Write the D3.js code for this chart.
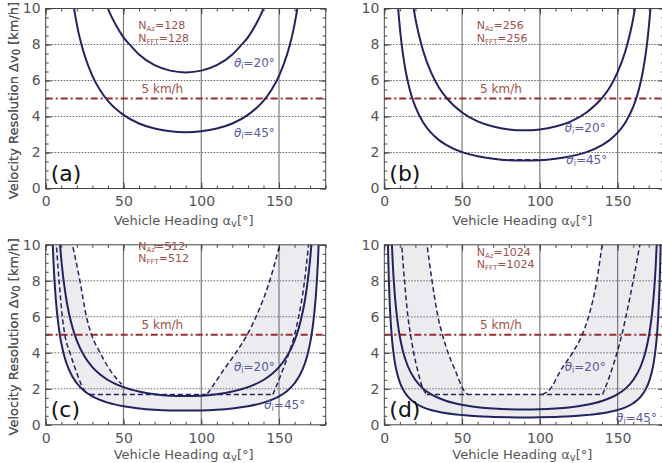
<!DOCTYPE html>
<html lang="en">
<head>
<meta charset="UTF-8">
<title>Velocity resolution vs vehicle heading</title>
<script src="https://d3js.org/d3.v7.min.js"></script>
<style>
  body { margin: 0; background: #fff; }
  svg { display: block; font-family: "DejaVu Sans", sans-serif; }
</style>
</head>
<body>
<svg width="662" height="463"></svg>
<script>
// ticks
const xTicks = [0, 50, 100, 150];
const yTicks = [0, 2, 4, 6, 8, 10];
const xMinor = [0, 10, 20, 30, 40, 50, 60, 70, 80, 90, 100, 110, 120, 130, 140, 150, 160, 170, 180];
const yMinor = [0, 0.5, 1, 1.5, 2, 2.5, 3, 3.5, 4, 4.5, 5, 5.5, 6, 6.5, 7, 7.5, 8, 8.5, 9, 9.5, 10];
const xGrid = [50, 100, 150];
const yGrid = [2, 4, 6, 8];
const limitKmh = 5;
const nSizes = ["128", "256", "512", "1024"];
const tags = ["(a)", "(b)", "(c)", "(d)"];

// solid curves, [heading deg, resolution km/h]
const a20 = [[39.5,10.1],[42,9.6],[45,9.1],[50,8.4],[55,7.9],[60,7.45],[70,6.85],[80,6.55],[90,6.45],
  [100,6.55],[110,6.85],[120,7.45],[125,7.9],[130,8.4],[135,9.1],[138,9.6],[140.5,10.1]];
const a45 = [[17.5,10.4],[19,9.6],[21,8.7],[23,8.0],[25,7.4],[30,6.26],[35,5.46],[40,4.87],[50,4.09],[60,3.61],
  [70,3.33],[80,3.18],[90,3.13],[100,3.18],[110,3.33],[120,3.61],[130,4.09],[140,4.87],[145,5.46],[150,6.26],
  [155,7.4],[157,8.0],[159,8.7],[161,9.6],[162.5,10.4]];
const b20 = [[18.5,10.2],[20,9.44],[22,8.62],[25,7.64],[30,6.46],[35,5.63],[40,5.03],[50,4.22],[60,3.73],[70,3.44],
  [80,3.28],[90,3.23],[100,3.28],[110,3.44],[120,3.73],[130,4.22],[140,5.03],[145,5.63],[150,6.46],[155,7.64],
  [158,8.62],[160,9.44],[161.5,10.2]];
const b45 = [[8.8,10.1],[9.5,9.4],[10.5,8.5],[12,7.46],[13.5,6.64],[15,5.99],[17.5,5.15],[20,4.53],[25,3.67],[30,3.1],
  [35,2.7],[40,2.41],[50,2.02],[60,1.79],[70,1.65],[80,1.57],[90,1.55],[100,1.57],[110,1.65],[120,1.79],[130,2.02],
  [140,2.41],[145,2.7],[150,3.1],[155,3.67],[160,4.53],[162.5,5.15],[165,5.99],[166.5,6.64],[168,7.46],[169.5,8.5],
  [170.5,9.4],[171.2,10.1]];
const c20 = [[9,10.2],[10,9.21],[11,8.39],[12,7.7],[13.5,6.85],[15,6.18],[17.5,5.32],[20,4.68],[25,3.79],[30,3.2],
  [35,2.79],[40,2.49],[50,2.09],[60,1.85],[70,1.7],[80,1.62],[90,1.6],[100,1.62],[110,1.7],[120,1.85],[130,2.09],
  [140,2.49],[145,2.79],[150,3.2],[155,3.79],[160,4.68],[162.5,5.32],[165,6.18],[166.5,6.85],[168,7.7],[169,8.39],
  [170,9.21],[171,10.2]];
const c45 = [[4.4,10.3],[5,9.06],[5.5,8.24],[6,7.56],[7,6.48],[8,5.68],[9,5.05],[10,4.55],[12,3.8],[15,3.05],[20,2.31],
  [25,1.87],[30,1.58],[40,1.23],[50,1.03],[60,0.91],[70,0.84],[80,0.8],[90,0.79],[100,0.8],[110,0.84],[120,0.91],
  [130,1.03],[140,1.23],[150,1.58],[155,1.87],[160,2.31],[165,3.05],[168,3.8],[170,4.55],[171,5.05],[172,5.68],
  [173,6.48],[174,7.56],[174.5,8.24],[175,9.06],[175.6,10.3]];
const d20 = [[4.8,10.2],[5.5,8.87],[6,8.13],[7,6.97],[8,6.11],[9,5.43],[10,4.89],[12,4.09],[15,3.28],[20,2.49],[25,2.01],
  [30,1.7],[40,1.32],[50,1.11],[60,0.98],[70,0.9],[80,0.86],[90,0.85],[100,0.86],[110,0.9],[120,0.98],[130,1.11],
  [140,1.32],[150,1.7],[155,2.01],[160,2.49],[165,3.28],[168,4.09],[170,4.89],[171,5.43],[172,6.11],[173,6.97],
  [174,8.13],[174.5,8.87],[175.2,10.2]];
const d45 = [[2.3,10.2],[2.6,9.03],[3,7.84],[3.5,6.72],[4,5.88],[5,4.7],[6,3.92],[7,3.36],[8,2.95],[10,2.36],[12,1.97],
  [15,1.58],[20,1.2],[25,0.97],[30,0.82],[40,0.64],[50,0.54],[60,0.47],[70,0.44],[80,0.42],[90,0.41],[100,0.42],
  [110,0.44],[120,0.47],[130,0.54],[140,0.64],[150,0.82],[155,0.97],[160,1.2],[165,1.58],[168,1.97],[170,2.36],
  [172,2.95],[173,3.36],[174,3.92],[175,4.7],[176,5.88],[176.5,6.72],[177,7.84],[177.4,9.03],[177.7,10.2]];

// dashed curves
const bFloor = [[75,1.6],[105,1.6]];
const cDash1 = [[6.6,10.3],[8.6,8],[10.7,6],[12.3,5],[15.6,4],[19.5,3],[24.2,2],[28.4,1.68]];
const cDash2 = [[16.5,10.3],[22,8],[26.2,6],[29.5,5],[35,4],[41.7,3],[48.8,2.25]];
const cFloor = [[28.4,1.68],[146,1.68]];
const cDash3 = [[104,1.73],[106.2,2],[114,3],[122.2,4],[129.5,5],[135.2,6],[144,8],[151,10.2]];
const cDash4 = [[146,1.68],[147.6,2],[152.2,3],[156.4,4],[160,5],[162.6,6],[166.4,8],[169.2,10.2]];
const dDash1 = [[10.9,10.3],[13,8],[15.2,6],[16.9,5],[18.9,4],[21.5,3],[24.9,2],[27.4,1.68]];
const dDash2 = [[27,10.3],[30.7,8],[34.5,6],[37.4,5],[41,4],[45.7,3],[50.6,2],[53.6,1.68]];
const dFloor = [[27.4,1.68],[140.3,1.68]];
const dDash3 = [[101.6,1.68],[106.8,2],[113.2,3],[121,4],[127.2,5],[131.3,6],[136.6,8],[140.3,10.2]];
const dDash4 = [[140.3,1.68],[141.8,2],[146,3],[149.6,4],[152.7,5],[155.3,6],[160,8],[164.7,10.2]];

// inner edge of the grey band
const cInner = cDash2.concat(c20.filter(p => p[0] > 50 && p[0] < 104), cDash3);
const dInner = dDash2.concat(dDash3);

const panels = [
  {ox: 45.7, oy: 8.5, s20: a20, s45: a45, dashed: [], inner: null,
   nY: [11, 24], t20: [121, 7.0], t45: [121, 3.1], titleY: 36},
  {ox: 384.3, oy: 8.5, s20: b20, s45: b45, dashed: [bFloor], inner: null,
   nY: [11.5, 24], t20: [116, 3.35], t45: [117, 1.6], titleY: 36},
  {ox: 45.7, oy: 244.8, s20: c20, s45: c45, dashed: [cDash1, cDash2, cFloor, cDash3, cDash4], inner: cInner,
   nY: [-3.5, 8.5], t20: [121, 3.2], t45: [140.5, 1.1], titleY: 34},
  {ox: 384.3, oy: 244.8, s20: d20, s45: d45, dashed: [dDash1, dDash2, dFloor, dDash3, dDash4], inner: dInner,
   nY: [2, 14], t20: [116, 3.2], t45: [149, 0.35], titleY: 34}
];

const W = 280, H = 180;
const navy = "#23235e", red = "#9b2d2d", label = "#a0504c", blueLbl = "#5a5a9c", grey = "#555";
const svg = d3.select("svg");

// text with a subscript part
function subText(sel, parts, size) {
  sel.append("tspan").text(parts[0]);
  sel.append("tspan").attr("font-size", size).attr("dy", 2).text(parts[1]);
  sel.append("tspan").attr("dy", -2).text(parts[2]);
}

panels.forEach((p, i) => {
  const x = d3.scaleLinear().domain([0, 180]).range([0, W]);
  const y = d3.scaleLinear().domain([0, 10]).range([H, 0]);
  const line = d3.line().x(d => x(d[0])).y(d => y(d[1])).curve(d3.curveMonotoneX);

  const g = svg.append("g").attr("transform", `translate(${p.ox},${p.oy})`);
  g.append("clipPath").attr("id", "clip" + i)
    .append("rect").attr("width", W).attr("height", H);
  const plot = g.append("g").attr("clip-path", `url(#clip${i})`);

  // grey band between theta=45 curve and inner edge
  if (p.inner) {
    plot.append("path")
      .attr("d", line(p.s45) + "Z" + line(p.inner) + "Z")
      .attr("fill", "#ebebf0")
      .attr("fill-rule", "evenodd");
  }

  // grid
  plot.selectAll(".hg").data(yGrid).enter().append("line")
    .attr("x1", 0).attr("x2", W).attr("y1", d => y(d)).attr("y2", d => y(d))
    .attr("stroke", "#666").attr("stroke-width", 1).attr("stroke-dasharray", "1.5,1.5");
  plot.selectAll(".vg").data(xGrid).enter().append("line")
    .attr("x1", d => x(d)).attr("x2", d => x(d)).attr("y1", 0).attr("y2", H)
    .attr("stroke", "#7a7a7a").attr("stroke-width", 1.2);

  // 5 km/h limit
  plot.append("line")
    .attr("x1", 0).attr("x2", W).attr("y1", y(limitKmh)).attr("y2", y(limitKmh))
    .attr("stroke", red).attr("stroke-width", 2).attr("stroke-dasharray", "7,3,2,3");

  // dashed curves
  p.dashed.forEach(c => {
    plot.append("path").attr("d", line(c))
      .attr("fill", "none").attr("stroke", navy).attr("stroke-width", 1.5)
      .attr("stroke-dasharray", "5,3");
  });

  // solid curves
  [p.s20, p.s45].forEach(c => {
    plot.append("path").attr("d", line(c))
      .attr("fill", "none").attr("stroke", navy).attr("stroke-width", 2);
  });

  // frame
  g.append("rect").attr("width", W).attr("height", H)
    .attr("fill", "none").attr("stroke", "#444").attr("stroke-width", 1);

  // ticks
  const styleAxis = a => {
    a.select(".domain").remove();
    a.selectAll(".tick line").attr("stroke", "#444");
    a.attr("font-family", "DejaVu Sans, sans-serif").attr("font-size", 14);
    a.selectAll("text").attr("fill", grey);
  };
  g.append("g").attr("transform", `translate(0,${H})`)
    .call(d3.axisBottom(x).tickValues(xTicks).tickSizeInner(-6).tickSizeOuter(0).tickPadding(8))
    .call(styleAxis);
  g.append("g").attr("transform", `translate(0,${H})`)
    .call(d3.axisBottom(x).tickValues(xMinor).tickSize(-3).tickFormat(""))
    .call(styleAxis);
  g.append("g")
    .call(d3.axisTop(x).tickValues(xTicks).tickSize(-6).tickFormat(""))
    .call(styleAxis);
  g.append("g")
    .call(d3.axisTop(x).tickValues(xMinor).tickSize(-3).tickFormat(""))
    .call(styleAxis);
  g.append("g")
    .call(d3.axisLeft(y).tickValues(yTicks).tickSizeInner(-6).tickSizeOuter(0).tickPadding(5))
    .call(styleAxis);
  g.append("g")
    .call(d3.axisLeft(y).tickValues(yMinor).tickSize(-3).tickFormat(""))
    .call(styleAxis);
  g.append("g").attr("transform", `translate(${W},0)`)
    .call(d3.axisRight(y).tickValues(yTicks).tickSize(-6).tickFormat(""))
    .call(styleAxis);
  g.append("g").attr("transform", `translate(${W},0)`)
    .call(d3.axisRight(y).tickValues(yMinor).tickSize(-3).tickFormat(""))
    .call(styleAxis);

  // axis titles
  const xt = g.append("text").attr("x", W / 2 - 2).attr("y", H + p.titleY)
    .attr("text-anchor", "middle").attr("font-size", 13).attr("fill", grey);
  subText(xt, ["Vehicle Heading α", "v", "[°]"], 10);

  const yt = g.append("text")
    .attr("transform", `translate(${-p.ox + 13},${H / 2 + 2}) rotate(-90)`)
    .attr("text-anchor", "middle").attr("dy", "0.35em").attr("font-size", 13).attr("fill", grey);
  subText(yt, ["Velocity Resolution Δv", "0", " [km/h]"], 10);

  // panel tag
  g.append("text").attr("x", 5).attr("y", H - 8)
    .attr("font-size", 22).attr("fill", "#111").text(tags[i]);

  // 5 km/h text
  g.append("text").attr("x", x(75)).attr("y", y(limitKmh) - 6)
    .attr("text-anchor", "middle").attr("font-size", 12).attr("fill", label).text("5 km/h");

  // N labels
  [["N", "Az", "=" + nSizes[i]], ["N", "FFT", "=" + nSizes[i]]].forEach((parts, k) => {
    const t = g.append("text").attr("x", x(59.5)).attr("y", p.nY[k] + 9)
      .attr("font-size", 11).attr("fill", label);
    subText(t, parts, 7);
  });

  // theta labels
  [[p.t20, "=20°"], [p.t45, "=45°"]].forEach(([pos, txt]) => {
    const t = g.append("text").attr("x", x(pos[0])).attr("y", y(pos[1]) + 4)
      .attr("font-size", 12).attr("fill", blueLbl);
    t.append("tspan").attr("font-style", "italic").text("θ");
    t.append("tspan").attr("font-size", 8).attr("dy", 2).text("i");
    t.append("tspan").attr("dy", -2).text(txt);
  });
});
</script>
</body>
</html>
